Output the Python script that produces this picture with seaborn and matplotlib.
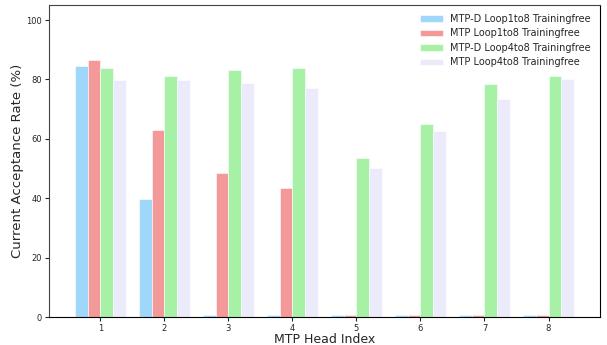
import numpy as np
import pandas as pd
import matplotlib
matplotlib.use("Agg")
import matplotlib.pyplot as plt
import seaborn as sns

heads = ["1", "2", "3", "4", "5", "6", "7", "8"]
series_names = [
    "MTP-D Loop1to8 Trainingfree",
    "MTP Loop1to8 Trainingfree",
    "MTP-D Loop4to8 Trainingfree",
    "MTP Loop4to8 Trainingfree",
]
mtpd_loop1to8 = [84.4, 39.7, 0.8, 0.8, 0.8, 0.8, 0.8, 0.8]
mtp_loop1to8 = [86.6, 63.0, 48.4, 43.3, 0.8, 0.8, 0.8, 0.8]
mtpd_loop4to8 = [84.0, 81.2, 83.3, 84.0, 53.4, 65.1, 78.3, 81.0]
mtp_loop4to8 = [79.7, 79.7, 78.8, 77.2, 50.2, 62.5, 73.3, 80.1]
colors = ["lightskyblue", "lightcoral", "lightgreen", "lavender"]

frames = []
for name, vals in zip(series_names,
                      [mtpd_loop1to8, mtp_loop1to8, mtpd_loop4to8, mtp_loop4to8]):
    frames.append(pd.DataFrame({"head": heads, "rate": vals, "series": name}))
df = pd.concat(frames, ignore_index=True)

sns.set_style("white")
fig, ax = plt.subplots(figsize=(6.07, 3.45), dpi=100)
sns.barplot(data=df, x="head", y="rate", hue="series", hue_order=series_names,
            palette=colors, saturation=1, alpha=0.8, edgecolor="white",
            linewidth=0.5, width=0.8, ax=ax)

ax.set_xlim(-0.8, 7.8)
ax.set_ylim(0, 105)
ax.set_yticks([0, 20, 40, 60, 80, 100])
ax.tick_params(axis="both", labelsize=6, length=3, width=0.8, pad=2,
               bottom=True, left=True)
ax.set_xlabel("MTP Head Index", fontsize=9, labelpad=0)
ax.set_ylabel("Current Acceptance Rate (%)", fontsize=9.5, labelpad=2)
for side in ["top", "right", "left", "bottom"]:
    ax.spines[side].set_visible(True)
    ax.spines[side].set_linewidth(0.8)
ax.spines["bottom"].set_color("black")
ax.spines["right"].set_color("black")
ax.spines["top"].set_color("#444444")
ax.spines["left"].set_color("#444444")

leg = ax.legend(loc="upper right", frameon=False, fontsize=7,
                handlelength=2.3, labelspacing=0.46, borderaxespad=0.5)

fig.subplots_adjust(left=0.081, right=0.988, top=0.985, bottom=0.081)
fig.savefig("out.png", dpi=100)
